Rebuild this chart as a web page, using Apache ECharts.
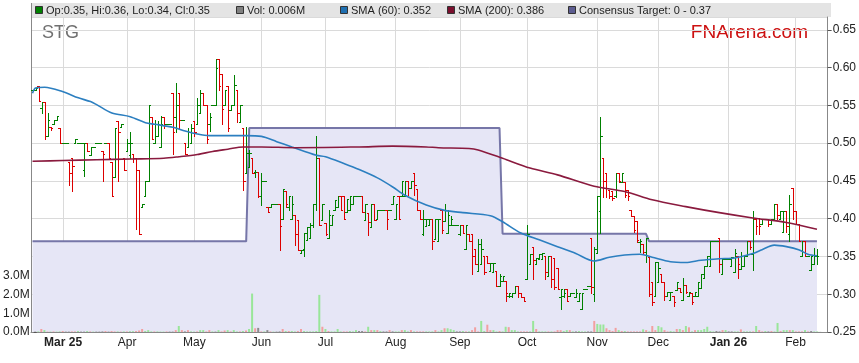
<!DOCTYPE html>
<html><head><meta charset="utf-8">
<script src="https://cdn.jsdelivr.net/npm/echarts@6/dist/echarts.min.js"></script>
<style>html,body{margin:0;padding:0;background:#fff}#c{width:859px;height:363px}</style>
</head><body><div id="c"></div>
<script>
// ---------------- DATA ----------------
const startDate = '2025-02-17';      // first weekday on the axis
const dayCount = 261;                // weekdays shown on the axis
const tickDates  = ['2025-03-03','2025-04-01','2025-05-01','2025-06-02','2025-07-01','2025-08-01','2025-09-01','2025-10-01','2025-11-03','2025-12-01','2026-01-01','2026-02-02'];
const tickLabels = ['Mar 25','Apr','May','Jun','Jul','Aug','Sep','Oct','Nov','Dec','Jan 26','Feb'];
const boldLabels = ['Mar 25','Jan 26'];
const priceTicks = [0.25,0.30,0.35,0.40,0.45,0.50,0.55,0.60,0.65];
const volumeTicks = ['0.0M','1.0M','2.0M','3.0M'];

// daily bars: [open, high, low, close]
const bars = [
[.571,.571,.571,.571],[.571,.573,.571,.573],[.575,.575,.556,.556],[.546,.555,.540,.554],[.554,.554,.506,.510],
[.510,.540,.509,.530],[.521,.521,.518,.520],[.526,.530,.526,.530],[.530,.536,.530,.536],[.520,.520,.500,.500],
[.500,.500,.500,.500],[.500,.500,.500,.500],[.475,.475,.444,.460],[.480,.480,.436,.470],[.500,.505,.500,.505],
[.500,.500,.500,.500],[.500,.500,.500,.500],[.465,.500,.456,.500],[.500,.500,.489,.489],[.484,.495,.484,.495],
[.495,.495,.495,.495],[.500,.500,.500,.500],[.500,.500,.500,.500],[.489,.489,.450,.485],[.500,.500,.500,.500],
[.500,.500,.481,.481],[.475,.475,.430,.430],[.455,.520,.455,.520],[.529,.529,.450,.515],[.521,.526,.521,.526],
[.481,.481,.465,.465],[.489,.505,.489,.500],[.484,.515,.481,.500],[.485,.485,.475,.480],[.481,.481,.386,.465],
[.465,.465,.380,.380],[.415,.420,.415,.420],[.430,.450,.430,.450],[.450,.551,.450,.551],[.535,.535,.506,.506],
[.500,.531,.500,.526],[.509,.529,.509,.525],[.495,.536,.495,.526],[.535,.535,.520,.526],[.526,.526,.526,.526],
[.526,.526,.526,.526],[.566,.566,.485,.515],[.535,.580,.515,.550],[.566,.566,.520,.530],[.530,.530,.530,.530],
[.500,.500,.485,.485],[.495,.520,.495,.515],[.500,.526,.500,.520],[.529,.529,.509,.515],[.526,.560,.526,.550],
[.540,.571,.540,.566],[.566,.566,.550,.550],[.551,.551,.500,.505],[.525,.540,.516,.535],[.551,.551,.551,.551],
[.551,.611,.551,.600],[.611,.611,.571,.575],[.591,.591,.526,.545],[.550,.571,.550,.571],[.575,.575,.516,.520],
[.544,.551,.544,.551],[.551,.590,.551,.577],[.570,.570,.528,.540],[.528,.551,.528,.551],[.520,.520,.438,.450],
[.460,.522,.460,.487],[.469,.491,.469,.487],[.480,.480,.460,.460],[.462,.465,.455,.462],[.462,.462,.429,.430],
[.430,.461,.418,.450],[.450,.450,.450,.450],[.416,.416,.409,.409],[.416,.419,.416,.419],[.419,.419,.419,.419],
[.419,.419,.419,.419],[.419,.419,.359,.390],[.399,.439,.399,.439],[.436,.436,.415,.420],[.415,.430,.412,.430],
[.399,.430,.399,.420],[.405,.405,.365,.380],[.398,.398,.359,.359],[.354,.359,.354,.359],[.360,.381,.350,.381],
[.372,.389,.372,.389],[.374,.394,.374,.392],[.392,.419,.389,.419],[.419,.510,.412,.480],[.480,.480,.392,.392],
[.398,.419,.398,.419],[.394,.394,.378,.380],[.374,.412,.374,.405],[.392,.405,.392,.405],[.412,.425,.412,.425],
[.415,.430,.415,.430],[.430,.430,.412,.412],[.430,.430,.400,.400],[.409,.426,.409,.426],[.412,.430,.412,.430],
[.419,.430,.419,.430],[.430,.430,.430,.430],[.430,.430,.430,.430],[.430,.430,.409,.409],[.398,.419,.398,.419],
[.407,.407,.379,.395],[.389,.419,.389,.419],[.419,.419,.398,.398],[.400,.412,.400,.412],[.412,.412,.412,.412],
[.412,.412,.412,.412],[.412,.412,.387,.400],[.412,.412,.412,.412],[.419,.430,.419,.430],[.400,.419,.400,.419],
[.430,.430,.400,.400],[.430,.450,.430,.450],[.430,.450,.430,.450],[.450,.450,.431,.440],[.440,.450,.440,.450],
[.461,.461,.431,.445],[.439,.439,.412,.412],[.412,.412,.399,.399],[.380,.412,.379,.400],[.390,.400,.390,.400],
[.392,.400,.392,.400],[.400,.400,.360,.370],[.373,.400,.373,.400],[.370,.400,.370,.400],[.411,.411,.381,.385],
[.397,.420,.397,.411],[.381,.411,.381,.405],[.391,.403,.391,.400],[.391,.391,.391,.391],[.391,.391,.391,.391],
[.380,.391,.379,.391],[.391,.391,.381,.381],[.360,.391,.360,.391],[.380,.380,.370,.370],[.380,.380,.327,.350],
[.360,.360,.340,.340],[.331,.373,.331,.366],[.340,.373,.340,.360],[.351,.351,.327,.330],[.351,.351,.341,.341],
[.331,.341,.331,.341],[.329,.341,.329,.341],[.331,.331,.311,.311],[.311,.327,.311,.324],[.318,.324,.318,.324],
[.318,.318,.291,.302],[.298,.302,.296,.302],[.298,.302,.296,.302],[.302,.311,.302,.311],[.311,.311,.296,.302],
[.302,.302,.296,.296],[.296,.296,.291,.291],[.320,.391,.320,.380],[.340,.353,.340,.353],[.362,.362,.320,.345],
[.340,.348,.340,.348],[.346,.353,.346,.353],[.346,.355,.346,.355],[.351,.351,.320,.330],[.324,.351,.324,.351],
[.351,.351,.309,.320],[.348,.348,.307,.310],[.335,.335,.307,.307],[.296,.307,.281,.307],[.298,.307,.296,.302],
[.307,.307,.291,.291],[.298,.302,.298,.302],[.302,.302,.302,.302],[.296,.307,.296,.302],[.291,.302,.291,.302],
[.281,.302,.281,.302],[.307,.307,.307,.307],[.311,.311,.311,.311],[.375,.375,.302,.310],[.300,.362,.291,.360],
[.355,.430,.355,.430],[.410,.535,.381,.509],[.480,.480,.429,.450],[.460,.460,.429,.440],[.438,.438,.427,.430],
[.436,.436,.425,.428],[.430,.460,.429,.460],[.460,.460,.449,.450],[.449,.460,.449,.460],[.449,.449,.429,.432],
[.438,.438,.425,.430],[.411,.411,.403,.404],[.403,.403,.382,.385],[.397,.397,.369,.372],[.369,.373,.356,.371],
[.366,.366,.353,.356],[.356,.375,.343,.375],[.349,.349,.297,.300],[.316,.316,.286,.290],[.297,.343,.297,.343],
[.316,.343,.316,.335],[.327,.327,.316,.316],[.316,.316,.293,.297],[.297,.303,.297,.303],[.293,.303,.293,.303],
[.297,.297,.284,.290],[.306,.316,.306,.316],[.308,.308,.303,.303],[.293,.321,.293,.312],[.312,.312,.301,.303],
[.297,.303,.297,.303],[.301,.301,.287,.290],[.297,.303,.297,.303],[.297,.316,.297,.316],[.308,.327,.308,.327],
[.321,.338,.321,.338],[.337,.351,.337,.351],[.338,.371,.338,.371],[.371,.371,.371,.371],[.371,.371,.371,.371],
[.375,.375,.330,.340],[.327,.347,.327,.347],[.347,.347,.347,.347],[.347,.347,.347,.347],[.338,.349,.338,.349],
[.330,.360,.330,.355],[.351,.351,.321,.340],[.334,.356,.334,.350],[.338,.351,.338,.351],[.351,.371,.351,.371],
[.371,.371,.360,.362],[.353,.410,.332,.400],[.399,.399,.380,.390],[.401,.401,.380,.390],[.393,.399,.393,.399],
[.399,.399,.399,.399],[.399,.399,.390,.393],[.393,.400,.393,.400],[.399,.419,.399,.419],[.419,.419,.399,.405],
[.399,.410,.399,.410],[.382,.410,.382,.410],[.410,.410,.382,.390],[.380,.432,.371,.420],[.440,.440,.400,.410],
[.410,.410,.393,.393],[.393,.393,.371,.371],[.351,.371,.351,.371],[.371,.371,.351,.351],[.351,.351,.351,.351],
[.332,.351,.332,.351],[.340,.361,.340,.350],[.350,.360,.340,.350]
];

// daily volume, millions
const volume = [
.02,.03,.16,.10,.02,.02,.03,.02,.03,.05,
.02,.02,.03,.03,.05,.02,.02,.05,.03,.02,
.02,.02,.03,.05,.02,.05,.03,.03,.02,.03,
.03,.04,.04,.05,.08,.16,.05,.10,.03,.03,
.03,.02,.02,.03,.02,.02,.10,.32,.10,.03,
.10,.03,.02,.03,.10,.10,.03,.10,.03,.02,
.10,.03,.08,.10,.03,.10,.03,.03,.05,.08,
.16,2.05,.20,.22,.03,.03,.10,.03,.02,.02,
.03,.16,.05,.05,.05,.03,.05,.16,.05,.03,
.03,.03,.05,1.98,.28,.16,.05,.03,.03,.16,
.03,.03,.03,.05,.03,.10,.05,.05,.03,.28,
.10,.10,.10,.05,.03,.03,.10,.03,.03,.03,
.10,.10,.03,.10,.03,.03,.03,.03,.03,.03,
.03,.10,.03,.10,.20,.20,.15,.10,.03,.03,
.05,.03,.03,.10,.25,.03,.59,.05,.39,.10,
.10,.03,.05,.03,.28,.26,.10,.10,.03,.03,
.03,.03,.03,.59,.16,.03,.03,.03,.03,.03,
.03,.10,.10,.05,.10,.10,.03,.03,.05,.03,
.03,.03,.03,.59,.43,.40,.40,.20,.10,.05,
.22,.10,.05,.05,.03,.03,.03,.03,.03,.14,
.10,.03,.32,.10,.32,.25,.10,.03,.05,.03,
.16,.16,.10,.32,.25,.03,.10,.10,.10,.16,
.28,.05,.03,.05,.03,.10,.10,.03,.03,.03,
.03,.14,.03,.03,.03,.03,.32,.10,.03,.05,
.03,.05,.03,.48,.05,.10,.10,.10,.10,.03,
.03,.03,.10,.03,.05,.03,.03,.006
];

// moving averages: [trading-day index, value]
const sma60 = [[0,.566],[1,.573],[4,.574],[10,.568],[15,.560],[19,.555],[21,.551],[26,.540],[32,.535],[37,.527],[40,.525],[46,.521],[50,.516],[54,.512],[58,.510],[64,.510],[70,.510],[75,.509],[80,.502],[85,.495],[93,.484],[96,.482],[102,.473],[107,.465],[113,.454],[118,.442],[122,.431],[129,.418],[135,.411],[141,.408],[150,.404],[154,.396],[160,.381],[166,.372],[172,.363],[178,.354],[184,.344],[189,.349],[194,.352],[199,.353],[203,.349],[209,.343],[214,.342],[219,.345],[225,.347],[230,.348],[236,.354],[239,.359],[243,.365],[247,.363],[251,.359],[254,.353],[257,.351]];
const sma200 = [[0,.476],[10,.477],[21,.478],[32,.479],[43,.480],[48,.482],[54,.485],[59,.489],[64,.492],[69,.495],[75,.495],[86,.494],[107,.495],[118,.496],[129,.495],[133,.494],[143,.493],[146,.491],[154,.480],[163,.467],[172,.458],[184,.443],[194,.436],[203,.425],[214,.416],[225,.408],[236,.401],[247,.395],[257,.386]];

// consensus target changes
const targetDates = ['2025-02-17','2025-05-27','2025-09-19','2025-11-26'];
const targetValues = [0.37,0.52,0.38,0.37];

const legendTexts = ['Op:0.35, Hi:0.36, Lo:0.34, Cl:0.35','Vol: 0.006M','SMA (60): 0.352','SMA (200): 0.386','Consensus Target: 0 - 0.37'];
const legendColors = ['#008000','#808080','#1f6fb0','#7a0f2e','#5c5c90'];

// ---------------- BUILD ----------------
const dates = [];
{ const d = new Date(startDate + 'T00:00:00Z');
  while (dates.length < dayCount) { const w = d.getUTCDay(); if (w > 0 && w < 6) dates.push(d.toISOString().slice(0,10)); d.setUTCDate(d.getUTCDate() + 1); } }

const ohlcData = bars.map((b, i) => [i, b[0], b[1], b[2], b[3]]);
const volData = volume.map((v, i) => {
  const b = bars[i];
  const col = b[3] > b[0] ? '#99e699' : (b[3] < b[0] ? '#f2a0a0' : '#8c8c8c');
  return { value: v, itemStyle: { color: col } };
});
const targetData = bars.map((b, i) => {
  let v = targetValues[0];
  for (let k = 0; k < targetDates.length; k++) if (targetDates[k] <= dates[i]) v = targetValues[k];
  return v;
});

const FONT = 'Liberation Sans, Arial, sans-serif';
const isTick = (idx, val) => tickDates.indexOf(val) >= 0;

function renderOHLC(params, api) {
  const i = api.value(0);
  const o = api.coord([i, api.value(1)]);
  const h = api.coord([i, api.value(2)]);
  const l = api.coord([i, api.value(3)]);
  const c = api.coord([i, api.value(4)]);
  const color = api.value(4) >= api.value(1) ? '#008000' : '#dd0000';
  const half = api.size([1, 0])[0] / 2;
  const x = Math.round(o[0]) + 0.5;
  const yo = Math.round(o[1]) + 0.5, yc = Math.round(c[1]) + 0.5;
  const yh = Math.round(h[1]), yl = Math.round(l[1]) + 1;
  const st = { stroke: color, lineWidth: 1 };
  return { type: 'group', children: [
    { type: 'line', shape: { x1: x, y1: yh, x2: x, y2: yl }, style: st },
    { type: 'line', shape: { x1: Math.round(o[0] - half), y1: yo, x2: x, y2: yo }, style: st },
    { type: 'line', shape: { x1: x, y1: yc, x2: Math.round(o[0] + half) + 1, y2: yc }, style: st }
  ]};
}

// legend graphics
const legendSquareX = [35, 236, 340, 447, 568];
const legendGraphics = [
  { type: 'rect', shape: { x: 31, y: 3, width: 800, height: 14 }, style: { fill: '#e4e4e4' }, silent: true },
  { type: 'line', shape: { x1: 31.5, y1: 3, x2: 31.5, y2: 18 }, style: { stroke: '#888', lineWidth: 1 } }
];
legendTexts.forEach((t, k) => {
  legendGraphics.push({ type: 'rect', shape: { x: legendSquareX[k] + 0.5, y: 6.5, width: 7, height: 7 }, style: { fill: legendColors[k], stroke: '#333', lineWidth: 1 } });
  legendGraphics.push({ type: 'text', x: legendSquareX[k] + 11, y: 10.5, style: { text: t, font: '11px ' + FONT, fill: '#222', verticalAlign: 'middle' } });
});
legendGraphics.push({ type: 'text', x: 42, y: 33, style: { text: 'STG', font: '18px ' + FONT, fill: '#707070', verticalAlign: 'middle' } });
legendGraphics.push({ type: 'text', x: 808, y: 33, style: { text: 'FNArena.com', font: '19px ' + FONT, fill: '#cc1111', align: 'right', verticalAlign: 'middle' } });

const chart = echarts.init(document.getElementById('c'), null, { renderer: 'canvas' });
chart.setOption({
  animation: false,
  backgroundColor: '#ffffff',
  grid: [
    { left: 31, right: 28, top: 17, bottom: 31 },
    { left: 31, right: 28, top: 257, bottom: 31 }
  ],
  xAxis: [
    { type: 'category', gridIndex: 0, data: dates, boundaryGap: true,
      axisLine: { lineStyle: { color: '#888' } }, axisTick: { show: false },
      axisLabel: { interval: isTick, margin: 5, color: '#222', fontSize: 12, fontFamily: FONT,
        formatter: (val) => { const k = tickDates.indexOf(val); const s = tickLabels[k]; return boldLabels.indexOf(s) >= 0 ? '{b|' + s + '}' : s; },
        rich: { b: { fontWeight: 'bold', fontSize: 12, color: '#222', fontFamily: FONT } } },
      splitLine: { show: true, interval: isTick, alignWithLabel: true, lineStyle: { color: '#dadada', width: 1 } } },
    { type: 'category', gridIndex: 1, data: dates, boundaryGap: true, show: false }
  ],
  yAxis: [
    { type: 'value', gridIndex: 0, position: 'right', min: 0.25, max: 0.667, interval: 0.05,
      axisLine: { show: true, lineStyle: { color: '#888' } },
      axisTick: { show: true, length: 4, lineStyle: { color: '#555' } },
      axisLabel: { margin: 5, color: '#222', fontSize: 12, fontFamily: FONT, showMaxLabel: false,
        formatter: (v) => { const m = priceTicks.find(p => Math.abs(p - v) < 1e-6); return m === undefined ? '' : m.toFixed(2); } },
      splitLine: { show: true, lineStyle: { color: '#dadada', width: 1 } } },
    { type: 'value', gridIndex: 0, position: 'left', min: 0, max: 1,
      axisLine: { show: true, lineStyle: { color: '#888' } }, axisTick: { show: false }, axisLabel: { show: false }, splitLine: { show: false } },
    { type: 'value', gridIndex: 1, position: 'left', min: 0, max: 4, interval: 1,
      axisLine: { show: false }, splitLine: { show: false },
      axisTick: { show: true, inside: true, length: 3, lineStyle: { color: '#555' } },
      axisLabel: { margin: 4, color: '#222', fontSize: 12, fontFamily: FONT,
        formatter: (v) => volumeTicks[Math.round(v)] || '' } }
  ],
  graphic: legendGraphics,
  series: [
    { name: 'Consensus Target', type: 'line', xAxisIndex: 0, yAxisIndex: 0, data: targetData, z: 1,
      showSymbol: false, symbol: 'none', silent: true,
      lineStyle: { color: '#7676a8', width: 2 },
      areaStyle: { color: '#e6e6f6', opacity: 1, origin: 'start' } },
    { name: 'Vol', type: 'bar', xAxisIndex: 1, yAxisIndex: 2, data: volData, barWidth: 2, z: 2, silent: true },
    { name: 'Price', type: 'custom', xAxisIndex: 0, yAxisIndex: 0, data: ohlcData, z: 3, silent: true,
      encode: { x: 0, y: [1, 2, 3, 4] }, renderItem: renderOHLC },
    { name: 'SMA (60)', type: 'line', xAxisIndex: 0, yAxisIndex: 0, data: sma60, z: 4, silent: true,
      showSymbol: false, symbol: 'none', smooth: 0.3, lineStyle: { color: '#2c7fc0', width: 1.6 } },
    { name: 'SMA (200)', type: 'line', xAxisIndex: 0, yAxisIndex: 0, data: sma200, z: 4, silent: true,
      showSymbol: false, symbol: 'none', smooth: 0.3, lineStyle: { color: '#8a1a3e', width: 1.6 } }
  ]
});
</script>
</body></html>
